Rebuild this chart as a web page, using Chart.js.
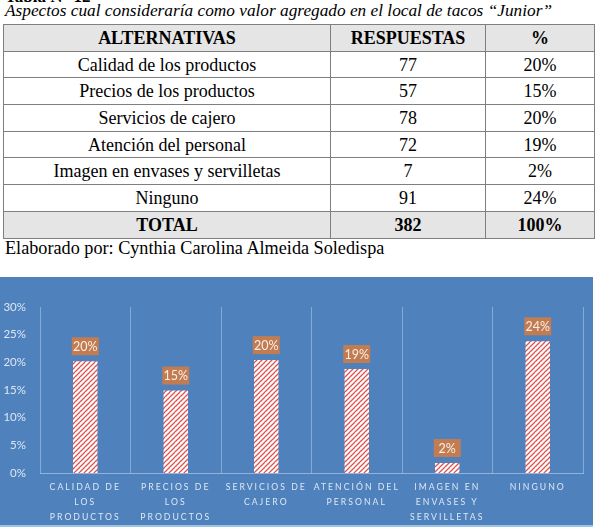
<!DOCTYPE html>
<html>
<head>
<meta charset="utf-8">
<script src="https://cdn.jsdelivr.net/npm/chart.js@4.4.0/dist/chart.umd.min.js"></script>
<style>
  html, body { margin: 0; padding: 0; background: #ffffff; }
  body { width: 600px; height: 529px; position: relative; overflow: hidden; font-family: "Liberation Serif", Tinos, "Times New Roman", Times, "DejaVu Serif", serif; color: #000; }
  .tabnum { position: absolute; left: 5px; top: -13px; font-size: 17px; font-weight: bold; }
  .caption { position: absolute; left: 5px; top: 1px; font-size: 17.3px; font-style: italic; white-space: nowrap; }
  table { position: absolute; left: 3px; top: 24px; width: 591px; border-collapse: collapse; table-layout: fixed; font-size: 18px; font-family: inherit; }
  td { border: 1px solid #7f7f7f; height: 25.7px; padding: 0; text-align: center; line-height: 20px; }
  tr.head td, tr.total td { background: #e5e5e5; font-weight: bold; }
  .source { position: absolute; left: 5px; top: 238px; font-size: 18.2px; white-space: nowrap; }
  #panel { position: absolute; left: 0; top: 277px; width: 593px; height: 250px; background: #4f81bd; border-bottom: 2px solid #9cc2e5; box-sizing: border-box; }
</style>
</head>
<body>
<div class="tabnum">Tabla N° 12</div>
<div class="caption">Aspectos cual consideraría como valor agregado en el local de tacos “Junior”</div>
<table id="tabla"></table>
<div class="source">Elaborado por: Cynthia Carolina Almeida Soledispa</div>
<div id="panel"><canvas id="grafico" width="593" height="248"></canvas></div>

<script>
"use strict";

// Table data
const alternativas = ['Calidad de los productos', 'Precios de los productos', 'Servicios de cajero',
    'Atención del personal', 'Imagen en envases y servilletas', 'Ninguno'];
const respuestas = [77, 57, 78, 72, 7, 91];
const porcentajes = ['20%', '15%', '20%', '19%', '2%', '24%'];
const totalRespuestas = 382;
const totalPorcentaje = '100%';

// Chart data
const categorias = [
    ['CALIDAD DE', 'LOS', 'PRODUCTOS'],
    ['PRECIOS DE', 'LOS', 'PRODUCTOS'],
    ['SERVICIOS DE', 'CAJERO'],
    ['ATENCIÓN DEL', 'PERSONAL'],
    ['IMAGEN EN', 'ENVASES Y', 'SERVILLETAS'],
    ['NINGUNO']
];
const valores = [20.2, 14.9, 20.4, 18.8, 1.8, 23.8];
const etiquetas = ['20%', '15%', '20%', '19%', '2%', '24%'];
const ticksY = [0, 5, 10, 15, 20, 25, 30];

const buildTable = () => {
    const tabla = document.getElementById('tabla');
    const colgroup = document.createElement('colgroup');
    [327, 155, 109].forEach((w) => {
        const col = document.createElement('col');
        col.style.width = w + 'px';
        colgroup.appendChild(col);
    });
    tabla.appendChild(colgroup);

    const addRow = (cells, cls) => {
        const tr = document.createElement('tr');
        if (cls) {
            tr.className = cls;
        }
        cells.forEach((text) => {
            const td = document.createElement('td');
            td.textContent = text;
            tr.appendChild(td);
        });
        tabla.appendChild(tr);
    };

    addRow(['ALTERNATIVAS', 'RESPUESTAS', '%'], 'head');
    alternativas.forEach((alt, i) => {
        addRow([alt, respuestas[i], porcentajes[i]]);
    });
    addRow(['TOTAL', totalRespuestas, totalPorcentaje], 'total');
};

const makeHatch = (ctx) => {
    const size = 5;
    const tile = document.createElement('canvas');
    tile.width = size;
    tile.height = size;
    const g = tile.getContext('2d');
    g.fillStyle = '#ffffff';
    g.fillRect(0, 0, size, size);
    g.strokeStyle = '#e0504d';
    g.lineWidth = 1.3;
    g.beginPath();
    g.moveTo(0, size);
    g.lineTo(size, 0);
    g.moveTo(-size, size);
    g.lineTo(0, 0);
    g.moveTo(0, 2 * size);
    g.lineTo(2 * size, 0);
    g.stroke();
    return ctx.createPattern(tile, 'repeat');
};

// draws the orange value boxes above each bar
const valueBoxes = {
    id: 'valueBoxes',
    afterDatasetsDraw(chart) {
        const ctx = chart.ctx;
        const meta = chart.getDatasetMeta(0);
        ctx.save();
        ctx.font = '12.5px Lato, "Open Sans", sans-serif';
        ctx.textAlign = 'center';
        ctx.textBaseline = 'middle';
        meta.data.forEach((bar, i) => {
            const w = 27;
            const h = 18;
            const bottom = bar.y - 6;
            ctx.fillStyle = '#c27c52';
            ctx.fillRect(bar.x - w / 2, bottom - h, w, h);
            ctx.fillStyle = '#fbeee6';
            ctx.fillText(etiquetas[i], bar.x, bottom - h / 2 + 0.5);
        });
        ctx.restore();
    }
};

// spaced capitals on the category axis
const spacedLabels = {
    id: 'spacedLabels',
    beforeDraw(chart) {
        const xs = chart.scales.x;
        if (xs && !xs._spaced) {
            const orig = xs.drawLabels.bind(xs);
            xs.drawLabels = function(area) {
                chart.ctx.save();
                chart.ctx.letterSpacing = '2px';
                orig(area);
                chart.ctx.restore();
            };
            xs._spaced = true;
        }
    }
};

const drawChart = () => {
    const canvas = document.getElementById('grafico');
    const ctx = canvas.getContext('2d');
    const hatch = makeHatch(ctx);

    new Chart(canvas, {
        type: 'bar',
        data: {
            labels: categorias,
            datasets: [{
                data: valores,
                backgroundColor: hatch,
                borderWidth: 0,
                categoryPercentage: 1,
                barPercentage: 0.27
            }]
        },
        options: {
            responsive: false,
            animation: false,
            layout: {
                padding: {top: 30, right: 10, left: 0, bottom: 0}
            },
            plugins: {
                legend: {display: false},
                tooltip: {enabled: false}
            },
            scales: {
                x: {
                    grid: {
                        display: true,
                        offset: true,
                        color: 'rgba(200,220,245,0.45)',
                        lineWidth: 1,
                        drawTicks: false
                    },
                    border: {display: true, color: 'rgba(200,220,245,0.55)'},
                    ticks: {
                        color: '#dde7f3',
                        font: {family: 'Lato, "Open Sans", sans-serif', size: 8.7, lineHeight: 1.72},
                        padding: 7,
                        autoSkip: false,
                        maxRotation: 0,
                        minRotation: 0
                    },
                    afterFit: (scale) => {
                        scale.height = 52;
                    }
                },
                y: {
                    min: 0,
                    max: 30,
                    afterBuildTicks: (scale) => {
                        scale.ticks = ticksY.map((v) => ({value: v}));
                    },
                    grid: {display: false},
                    border: {display: false},
                    ticks: {
                        color: '#dde7f3',
                        font: {family: 'Lato, "Open Sans", sans-serif', size: 11.5},
                        padding: 6,
                        callback: (v) => v + '%'
                    },
                    afterFit: (scale) => {
                        scale.width = 40;
                    }
                }
            }
        },
        plugins: [spacedLabels, valueBoxes]
    });
};

buildTable();
drawChart();
</script>
</body>
</html>
